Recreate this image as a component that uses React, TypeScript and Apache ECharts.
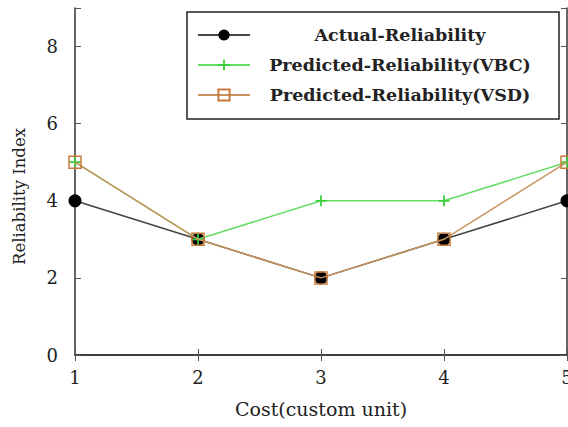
import React, { useEffect, useRef } from "react";
import * as echarts from "echarts";

const xValues = [1, 2, 3, 4, 5];
const actual = [4, 3, 2, 3, 4];
const vbc = [5, 3, 4, 4, 5];
const vsd = [5, 3, 2, 3, 5];
const seriesNames = [
  "Actual-Reliability",
  "Predicted-Reliability(VBC)",
  "Predicted-Reliability(VSD)",
];

const FONT = "DejaVu Serif";
const plus = "path://M4.2,0H5.8V4.2H10V5.8H5.8V10H4.2V5.8H0V4.2H4.2Z";

export default function App() {
  const ref = useRef<HTMLDivElement>(null);
  useEffect(() => {
    if (!ref.current) return;
    const chart = echarts.init(ref.current, undefined, { renderer: "svg" });
    const pair = (ys: number[]) => xValues.map((x, i) => [x, ys[i]]);
    const axisLine = { lineStyle: { color: "#333", width: 1.5 } };
    const tick = { inside: true, length: 6, lineStyle: { color: "#555", width: 1 } };
    chart.setOption({
      animation: false,
      backgroundColor: "#fff",
      grid: { left: 75, right: 1, top: 8, bottom: 72, containLabel: false, outerBoundsMode: "none" },
      xAxis: [
        {
          type: "value",
          min: 1,
          max: 5,
          interval: 1,
          name: "Cost(custom unit)",
          nameLocation: "middle",
          nameGap: 44,
          nameTextStyle: { fontFamily: FONT, fontSize: 19, color: "#222" },
          axisLine,
          axisTick: tick,
          splitLine: { show: false },
          axisLabel: { fontFamily: FONT, fontSize: 18, color: "#222", margin: 13 },
        },
        {
          type: "value",
          position: "top",
          min: 1,
          max: 5,
          interval: 1,
          axisLine,
          axisTick: tick,
          splitLine: { show: false },
          axisLabel: { show: false },
        },
      ],
      yAxis: [
        {
          type: "value",
          min: 0,
          max: 9,
          interval: 2,
          name: "Reliability Index",
          nameLocation: "middle",
          nameGap: 47,
          nameTextStyle: { fontFamily: FONT, fontSize: 16.5, color: "#222", padding: [0, 30, 0, 0] },
          axisLine,
          axisTick: tick,
          splitLine: { show: false },
          axisLabel: {
            fontFamily: FONT,
            fontSize: 18,
            color: "#222",
            margin: 17,
            formatter: (v: number) => (v % 2 === 0 ? String(v) : ""),
          },
        },
        {
          type: "value",
          position: "right",
          min: 0,
          max: 9,
          interval: 2,
          axisLine,
          axisTick: tick,
          splitLine: { show: false },
          axisLabel: { show: false },
        },
      ],
      legend: {
        orient: "vertical",
        left: 187,
        top: 12,
        padding: [14, 14, 15, 10],
        itemWidth: 52,
        itemHeight: 14,
        itemGap: 12,
        backgroundColor: "#fff",
        borderColor: "#222",
        borderWidth: 1.5,
        borderRadius: 0,
        data: seriesNames,
        formatter: "{a|{name}}",
        textStyle: {
          fontFamily: FONT,
          fontWeight: "bold",
          fontSize: 17.5,
          color: "#222",
          lineHeight: 14,
          rich: {
            a: {
              width: 290,
              align: "center",
              fontFamily: FONT,
              fontWeight: "bold",
              fontSize: 17.5,
              color: "#222",
              lineHeight: 14,
            },
          },
        },
      },
      series: [
        {
          name: seriesNames[0],
          type: "line",
          data: pair(actual),
          symbol: "circle",
          symbolSize: 13,
          itemStyle: { color: "#000" },
          lineStyle: { color: "#444", width: 1.5 },
          z: 2,
        },
        {
          name: seriesNames[1],
          type: "line",
          data: pair(vbc),
          symbol: plus,
          symbolSize: 11,
          itemStyle: { color: "#3ccf3c" },
          lineStyle: { color: "#66dd66", width: 1.5 },
          z: 3,
        },
        {
          name: seriesNames[2],
          type: "line",
          data: pair(vsd),
          symbol: "rect",
          symbolSize: 12,
          itemStyle: { color: "transparent", borderColor: "#c77a3a", borderWidth: 1.5 },
          lineStyle: { color: "#c9935f", width: 1.5 },
          z: 4,
        },
      ],
    });
    return () => chart.dispose();
  }, []);
  return (
    <div
      ref={ref}
      style={{ position: "fixed", left: 0, top: 0, width: 568, height: 427 }}
    />
  );
}
